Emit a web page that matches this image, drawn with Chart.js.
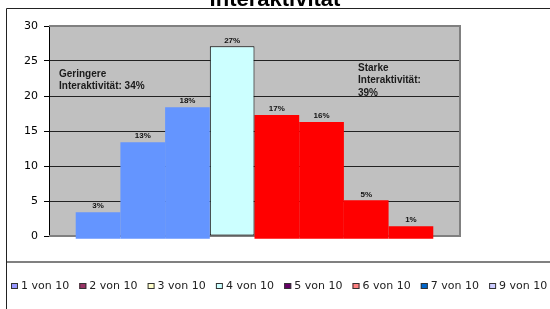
<!DOCTYPE html>
<html>
<head>
<meta charset="utf-8">
<script src="https://cdn.jsdelivr.net/npm/chart.js@4"></script>
<style>
  html, body { margin: 0; padding: 0; background: #fff; }
  canvas { display: block; }
</style>
</head>
<body>
<canvas id="c" width="550" height="309"></canvas>
<script>
// ---- data ----
const titleText = 'Interaktivität';
const seriesNames = ['1 von 10', '2 von 10', '3 von 10', '4 von 10', '5 von 10', '6 von 10', '7 von 10', '9 von 10'];
const values = [3.4, 13.4, 18.4, 27.1, 17.3, 16.3, 5.1, 1.4];
const valueLabels = ['3%', '13%', '18%', '27%', '17%', '16%', '5%', '1%'];
const barColors = ['#6495FF', '#6495FF', '#6495FF', '#CCFFFF', '#FF0000', '#FF0000', '#FF0000', '#FF0000'];
const legendColors = ['#9999FF', '#993366', '#FFFFCC', '#CCFFFF', '#660066', '#FF8080', '#0066CC', '#CCCCFF'];
const yTicks = [0, 5, 10, 15, 20, 25, 30];
const noteLeft = ['Geringere', 'Interaktivität: 34%'];
const noteRight = ['Starke', 'Interaktivität:', '39%'];

const datasets = seriesNames.map((name, i) => ({
  label: name,
  data: [values[i]],
  backgroundColor: barColors[i],
  borderColor: i === 3 ? '#000' : barColors[i],
  borderWidth: i === 3 ? 1 : 0,
  borderSkipped: false,
  base: i === 3 ? 0 : -0.4,
  clip: false,
  barPercentage: 1.0,
  categoryPercentage: 0.87
}));

const framePlugin = {
  id: 'frame',
  beforeDraw(chart) {
    const ctx = chart.ctx, a = chart.chartArea;
    ctx.save();
    ctx.fillStyle = '#fff';
    ctx.fillRect(0, 0, chart.width, chart.height);
    // outer frame lines
    ctx.strokeStyle = '#222';
    ctx.lineWidth = 1;
    ctx.beginPath();
    ctx.moveTo(6.5, 309); ctx.lineTo(6.5, 8.5); ctx.lineTo(550, 8.5);
    ctx.stroke();
    ctx.strokeStyle = '#808080';
    ctx.lineWidth = 2;
    ctx.beginPath();
    ctx.moveTo(7, 262); ctx.lineTo(550, 262);
    ctx.stroke();
    // plot background
    ctx.fillStyle = '#C0C0C0';
    ctx.fillRect(a.left, a.top, a.right - a.left, a.bottom - a.top);
    ctx.restore();
  },
  beforeDatasetsDraw(chart) {
    const ctx = chart.ctx, a = chart.chartArea;
    ctx.save();
    ctx.strokeStyle = '#808080';
    ctx.lineWidth = 2;
    ctx.beginPath();
    ctx.moveTo(a.left, a.top); ctx.lineTo(a.right, a.top); ctx.lineTo(a.right, a.bottom); ctx.lineTo(a.left, a.bottom);
    ctx.stroke();
    ctx.restore();
  },
  afterDraw(chart) {
    const ctx = chart.ctx;
    ctx.save();
    // title (cropped at top)
    ctx.fillStyle = '#000';
    ctx.font = 'bold 22px "Liberation Sans", Arial, sans-serif';
    ctx.textAlign = 'center';
    ctx.textBaseline = 'alphabetic';
    ctx.fillText(titleText, 275, 6);
    // value labels
    ctx.font = 'bold 8px "Liberation Sans", Arial, sans-serif';
    ctx.fillStyle = '#111';
    ctx.textBaseline = 'middle';
    chart.data.datasets.forEach((ds, i) => {
      const el = chart.getDatasetMeta(i).data[0];
      ctx.fillText(valueLabels[i], el.x, el.y - 6);
    });
    // notes
    ctx.font = 'bold 10px "Liberation Sans", Arial, sans-serif';
    ctx.fillStyle = '#1a1a1a';
    ctx.textAlign = 'left';
    noteLeft.forEach((t, k) => ctx.fillText(t, 59, 74 + k * 12));
    noteRight.forEach((t, k) => ctx.fillText(t, 358, 68 + k * 12.5));
    // legend
    ctx.font = '11px "DejaVu Sans", sans-serif';
    seriesNames.forEach((name, i) => {
      const x = 11 + i * 68.3;
      ctx.fillStyle = legendColors[i];
      ctx.fillRect(x, 283, 7, 6);
      ctx.strokeStyle = '#333';
      ctx.lineWidth = 1;
      ctx.strokeRect(x + 0.5, 283.5, 6, 5);
      ctx.fillStyle = '#222';
      ctx.fillText(name, x + 10, 286.5);
    });
    ctx.restore();
  }
};

new Chart(document.getElementById('c'), {
  type: 'bar',
  data: { labels: [''], datasets },
  options: {
    responsive: false,
    animation: false,
    devicePixelRatio: 1,
    layout: { padding: { left: 0, right: 90, top: 26, bottom: 73 } },
    plugins: { legend: { display: false }, tooltip: { enabled: false }, title: { display: false } },
    scales: {
      x: { display: false },
      y: {
        min: 0, max: 30,
        afterBuildTicks: (s) => { s.ticks = yTicks.map(v => ({ value: v })); },
        afterFit: (s) => { s.width = 49; },
        ticks: { color: '#000', padding: 6, font: { family: '"DejaVu Sans", sans-serif', size: 11 } },
        grid: {
          color: (c) => (c.tick && (c.tick.value === 0 || c.tick.value === 30)) ? 'rgba(0,0,0,0)' : '#222',
          tickColor: '#000',
          tickLength: 5,
          lineWidth: 1
        },
        border: { color: '#000', width: 1 }
      }
    }
  },
  plugins: [framePlugin]
});
</script>
</body>
</html>
